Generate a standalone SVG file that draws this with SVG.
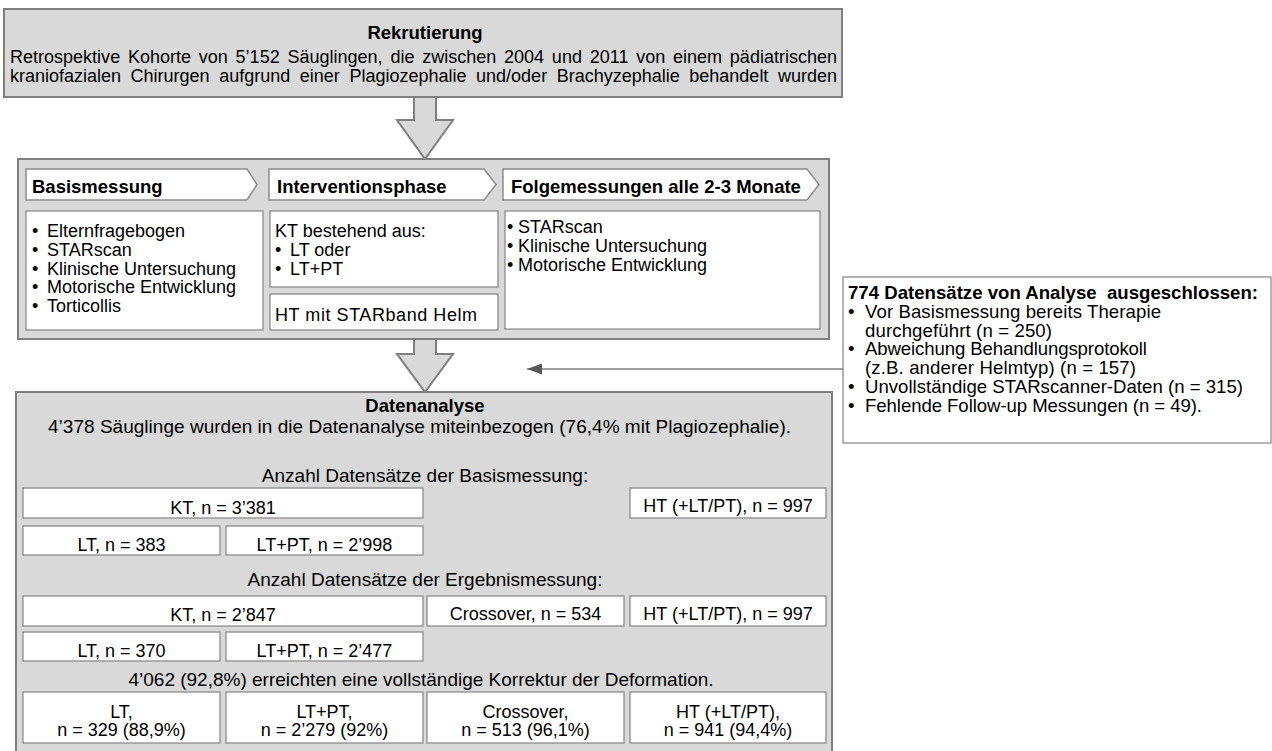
<svg xmlns="http://www.w3.org/2000/svg" width="1272" height="751" viewBox="0 0 1272 751">
<defs>
<style>
text{font-family:"Liberation Sans",Arial,sans-serif;font-size:18px;fill:#000}
.b{font-weight:bold}
.c{text-anchor:middle}
.h{font-size:18.5px;font-weight:bold}
.s19{font-size:19px}
.ex{font-size:18.6px}
.g{fill:#d9d9d9;stroke:#7f7f7f;stroke-width:2}
.w{fill:#fff;stroke:#8c8c8c;stroke-width:1.3}
.ch{fill:#fff;stroke:#8c8c8c;stroke-width:1.5}
.conn{stroke:#7f7f7f;stroke-width:1.3;fill:none}
</style>
<marker id="ah" viewBox="0 0 15 11" refX="15" refY="5.5" markerWidth="15" markerHeight="11" markerUnits="userSpaceOnUse" orient="auto">
<path d="M0,0 L15,5.5 L0,11 Z" fill="#595959"/>
</marker>
</defs>
<rect width="1272" height="751" fill="#fff"/>

<g id="connectors">
<polygon class="g" points="414,97 436,97 436,120 453,120 425,159 397,120 414,120"/>
<polygon class="g" points="414,339 436,339 436,354 453,354 425,392 397,354 414,354"/>
<line class="conn" x1="843" y1="369" x2="527" y2="369" marker-end="url(#ah)"/>
</g>

<g id="rekrutierung">
<rect class="g" x="4" y="9" width="838" height="88"/>
<text class="h c" x="425" y="39">Rekrutierung</text>
<text x="10" y="62.5" word-spacing="2.75" textLength="827" lengthAdjust="spacing">Retrospektive Kohorte von 5’152 Säuglingen, die zwischen 2004 und 2011 von einem pädiatrischen</text>
<text x="10" y="82" word-spacing="4.6" textLength="827" lengthAdjust="spacing">kraniofazialen Chirurgen aufgrund einer Plagiozephalie und/oder Brachyzephalie behandelt wurden</text>
</g>

<g id="phasen">
<rect class="g" x="18" y="159" width="811" height="180"/>
<g id="basismessung">
<polygon class="ch" points="26,169 247,169 257,184.5 247,200 26,200"/>
<text class="h" x="32" y="193">Basismessung</text>
<rect class="w" x="26" y="211" width="237" height="119"/>
<text><tspan x="32" y="237">•</tspan><tspan x="47" y="237">Elternfragebogen</tspan></text>
<text><tspan x="32" y="255.8">•</tspan><tspan x="47" y="255.8">STARscan</tspan></text>
<text><tspan x="32" y="274.6">•</tspan><tspan x="47" y="274.6">Klinische Untersuchung</tspan></text>
<text><tspan x="32" y="293.4">•</tspan><tspan x="47" y="293.4">Motorische Entwicklung</tspan></text>
<text><tspan x="32" y="312.2">•</tspan><tspan x="47" y="312.2">Torticollis</tspan></text>
</g>
<g id="interventionsphase">
<polygon class="ch" points="269,169 484,169 496,184.5 484,200 269,200"/>
<text class="h" x="277" y="193">Interventionsphase</text>
<rect class="w" x="270" y="211" width="228" height="76"/>
<text x="275" y="237">KT bestehend aus:</text>
<text><tspan x="275" y="255.8">•</tspan><tspan x="290" y="255.8">LT oder</tspan></text>
<text><tspan x="275" y="274.6">•</tspan><tspan x="290" y="274.6">LT+PT</tspan></text>
<rect class="w" x="270" y="294" width="228" height="36"/>
<text x="275" y="321" textLength="202" lengthAdjust="spacing">HT mit STARband Helm</text>
</g>
<g id="folgemessungen">
<polygon class="ch" points="503,169 807,169 819,184.5 807,200 503,200"/>
<text class="h" x="511" y="193">Folgemessungen alle 2-3 Monate</text>
<rect class="w" x="505" y="211" width="315" height="118"/>
<text><tspan x="507" y="233">•</tspan><tspan x="518" y="233">STARscan</tspan></text>
<text><tspan x="507" y="251.8">•</tspan><tspan x="518" y="251.8">Klinische Untersuchung</tspan></text>
<text><tspan x="507" y="270.6">•</tspan><tspan x="518" y="270.6">Motorische Entwicklung</tspan></text>
</g>
</g>

<g id="ausschluss">
<rect class="w" x="843" y="277" width="428" height="166"/>
<text class="ex b" x="848" y="299" xml:space="preserve" textLength="410" lengthAdjust="spacing">774 Datensätze von Analyse  ausgeschlossen:</text>
<text class="ex"><tspan x="848" y="317.8">•</tspan><tspan x="865" y="317.8" textLength="296" lengthAdjust="spacing">Vor Basismessung bereits Therapie</tspan></text>
<text class="ex" x="865" y="336.6" textLength="187" lengthAdjust="spacing">durchgeführt (n = 250)</text>
<text class="ex"><tspan x="848" y="355.4">•</tspan><tspan x="865" y="355.4" textLength="282" lengthAdjust="spacing">Abweichung Behandlungsprotokoll</tspan></text>
<text class="ex" x="865" y="374.2" textLength="271" lengthAdjust="spacing">(z.B. anderer Helmtyp) (n = 157)</text>
<text class="ex"><tspan x="848" y="393">•</tspan><tspan x="865" y="393" textLength="378" lengthAdjust="spacing">Unvollständige STARscanner-Daten (n = 315)</tspan></text>
<text class="ex"><tspan x="848" y="411.8">•</tspan><tspan x="865" y="411.8" textLength="337" lengthAdjust="spacing">Fehlende Follow-up Messungen (n = 49).</tspan></text>
</g>

<g id="datenanalyse">
<rect class="g" x="16" y="392" width="816" height="362"/>
<text class="h c" x="425" y="412">Datenanalyse</text>
<text class="s19" x="48" y="433" textLength="743" lengthAdjust="spacing">4’378 Säuglinge wurden in die Datenanalyse miteinbezogen (76,4% mit Plagiozephalie).</text>
<text class="s19 c" x="425" y="481.5">Anzahl Datensätze der Basismessung:</text>
<rect class="w" x="23" y="488" width="400" height="30"/>
<text class="c" x="223" y="514">KT, n = 3’381</text>
<rect class="w" x="630" y="488" width="196" height="30"/>
<text class="c" x="728" y="512">HT (+LT/PT), n = 997</text>
<rect class="w" x="23" y="526" width="197" height="29"/>
<text class="c" x="121.5" y="551">LT, n = 383</text>
<rect class="w" x="226" y="526" width="197" height="29"/>
<text class="c" x="324.5" y="551">LT+PT, n = 2’998</text>
<text class="s19 c" x="425" y="586">Anzahl Datensätze der Ergebnismessung:</text>
<rect class="w" x="23" y="596" width="400" height="30"/>
<text class="c" x="223" y="621">KT, n = 2’847</text>
<rect class="w" x="427" y="596" width="197" height="30"/>
<text class="c" x="525.5" y="620">Crossover, n = 534</text>
<rect class="w" x="630" y="596" width="196" height="30"/>
<text class="c" x="728" y="620">HT (+LT/PT), n = 997</text>
<rect class="w" x="23" y="632" width="197" height="29"/>
<text class="c" x="121.5" y="656.5">LT, n = 370</text>
<rect class="w" x="226" y="632" width="197" height="29"/>
<text class="c" x="324.5" y="656.5">LT+PT, n = 2’477</text>
<text class="s19 c" x="421" y="686">4’062 (92,8%) erreichten eine vollständige Korrektur der Deformation.</text>
<rect class="w" x="23" y="692" width="197" height="51"/>
<text class="c" x="121.5" y="717.5">LT,</text>
<text class="c" x="121.5" y="736">n = 329 (88,9%)</text>
<rect class="w" x="226" y="692" width="197" height="51"/>
<text class="c" x="324.5" y="717.5">LT+PT,</text>
<text class="c" x="324.5" y="736">n = 2’279 (92%)</text>
<rect class="w" x="427" y="692" width="197" height="51"/>
<text class="c" x="525.5" y="717.5">Crossover,</text>
<text class="c" x="525.5" y="736">n = 513 (96,1%)</text>
<rect class="w" x="630" y="692" width="196" height="51"/>
<text class="c" x="728" y="717.5">HT (+LT/PT),</text>
<text class="c" x="728" y="736">n = 941 (94,4%)</text>
</g>
</svg>
